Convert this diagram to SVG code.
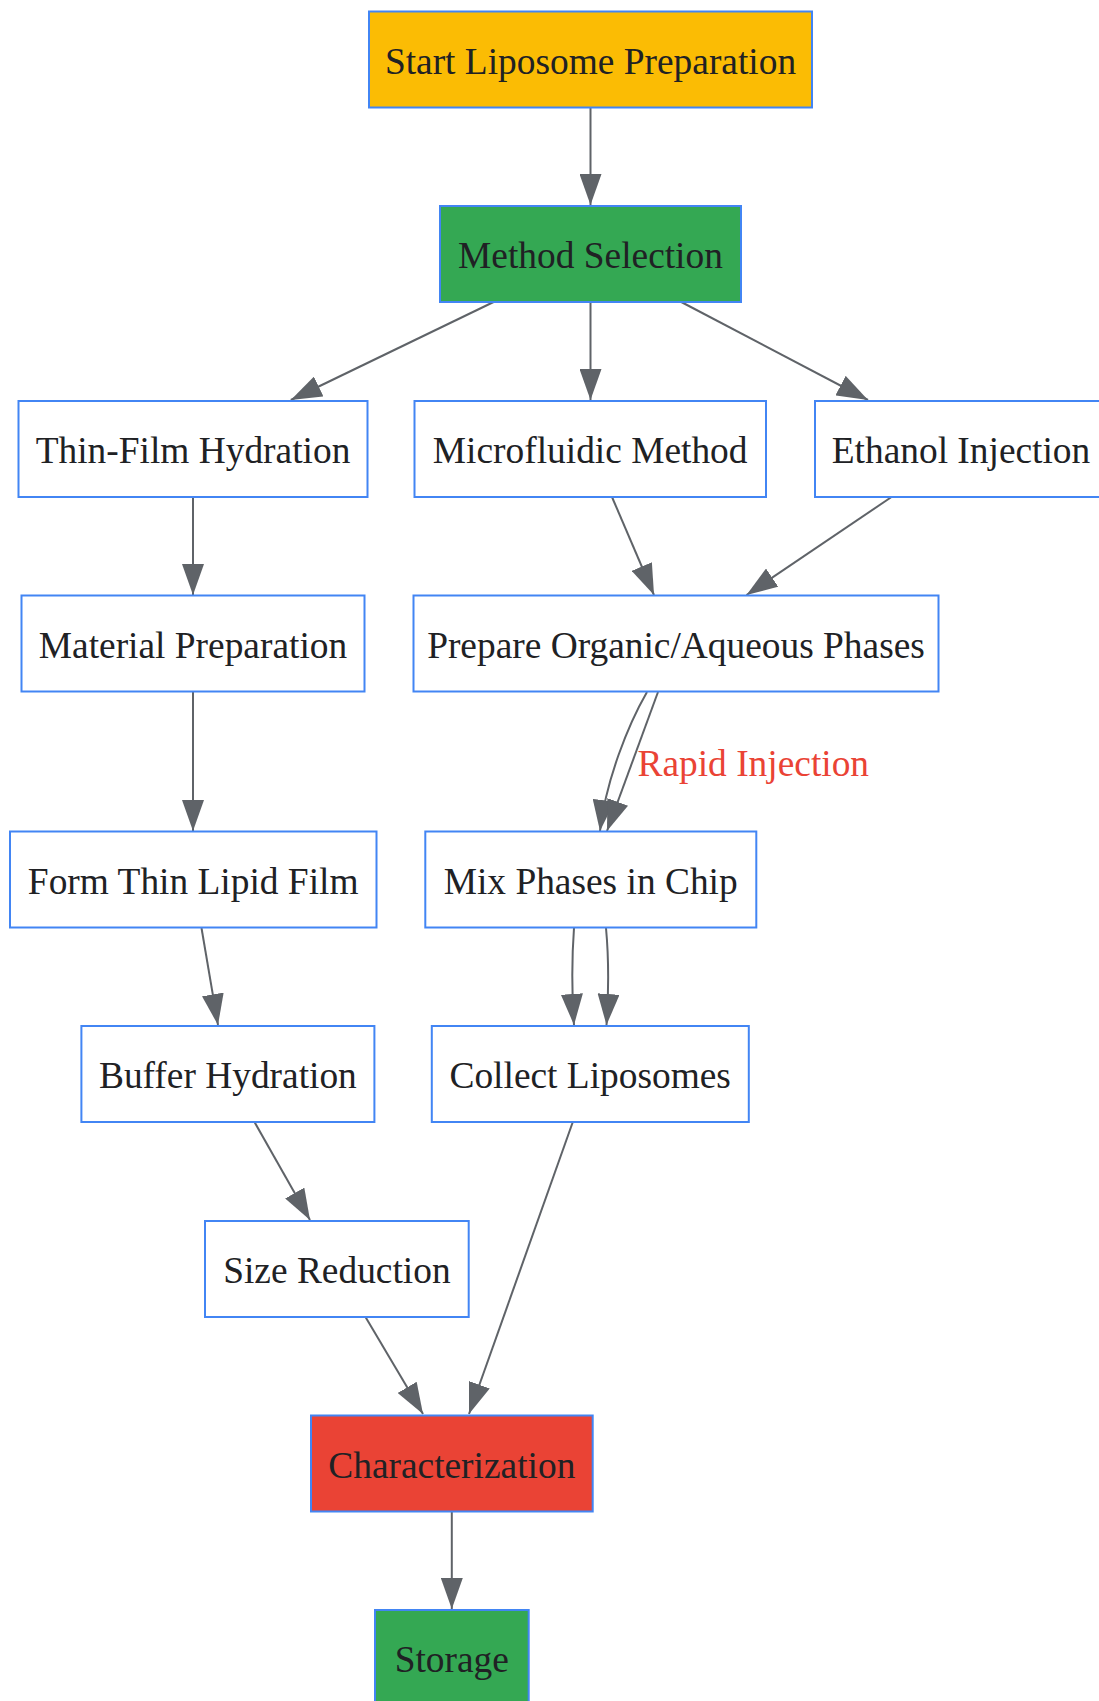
<svg xmlns="http://www.w3.org/2000/svg" width="1099" height="1701" viewBox="0 0 1099 1701">
<style>
.node rect{fill:#ffffff;stroke:#4285f4;stroke-width:2}
.node text{font-family:"Liberation Serif","Times New Roman",serif;font-size:37.4px;fill:#202124;text-anchor:middle}
.yellow rect{fill:#fbbc04}
.green rect{fill:#34a853}
.red rect{fill:#ea4335}
.edges path{fill:none;stroke:#5f6368;stroke-width:2;marker-end:url(#arrow)}
.elabel{font-family:"Liberation Serif","Times New Roman",serif;font-size:37.4px;fill:#ea4335}
</style>
<defs>
<marker id="arrow" viewBox="0 0 31 22" refX="31" refY="11" markerWidth="31" markerHeight="22" markerUnits="userSpaceOnUse" orient="auto">
<path d="M0,0 L31,11 L0,22 z" fill="#5f6368"/>
</marker>
</defs>
<rect width="1099" height="1701" fill="#ffffff"/>
<g class="edges" id="connectors">
<path d="M590.5,107 L590.5,205"/>
<path d="M493.6,302 L290.8,400"/>
<path d="M590.5,302 L590.5,400"/>
<path d="M681.3,302 L868,400"/>
<path d="M193,497 L193,595"/>
<path d="M612,497 L654,595"/>
<path d="M891.5,497 L746.5,595"/>
<path d="M193,691 L193,831"/>
<path d="M647,692 C628,725 606,780 600,831"/>
<path d="M658,692 L607,831"/>
<path d="M574,928 C572,955 572,995 574,1025"/>
<path d="M606,928 C608.5,955 608.5,995 606.5,1025"/>
<path d="M201.5,928 L218,1025"/>
<path d="M254.5,1122 L310,1220"/>
<path d="M365.5,1317 L423,1414"/>
<path d="M572.8,1122 L469,1414"/>
<path d="M451.8,1512 L451.8,1609"/>
<text class="elabel" x="637.5" y="776">Rapid Injection</text>
</g>
<g class="node yellow" id="start"><rect x="369" y="11.5" width="443" height="96"/><text x="590.5" y="73.5">Start Liposome Preparation</text></g>
<g class="node green" id="method"><rect x="440" y="206" width="301" height="96"/><text x="590.5" y="268">Method Selection</text></g>
<g class="node" id="thinfilm"><rect x="18.5" y="401" width="349" height="96"/><text x="193" y="463">Thin-Film Hydration</text></g>
<g class="node" id="microfluidic"><rect x="414.5" y="401" width="351.5" height="96"/><text x="590.2" y="463">Microfluidic Method</text></g>
<g class="node" id="ethanol"><rect x="815" y="401" width="292" height="96"/><text x="961" y="463">Ethanol Injection</text></g>
<g class="node" id="material"><rect x="21.5" y="595.5" width="343" height="96"/><text x="193" y="657.5">Material Preparation</text></g>
<g class="node" id="prepare"><rect x="413.5" y="595.5" width="525" height="96"/><text x="676" y="657.5">Prepare Organic/Aqueous Phases</text></g>
<g class="node" id="form"><rect x="10" y="831.5" width="366.5" height="96"/><text x="193.2" y="893.5">Form Thin Lipid Film</text></g>
<g class="node" id="mix"><rect x="425.3" y="831.5" width="331" height="96"/><text x="590.7" y="893.5">Mix Phases in Chip</text></g>
<g class="node" id="buffer"><rect x="81.4" y="1026" width="293" height="96"/><text x="227.9" y="1088">Buffer Hydration</text></g>
<g class="node" id="collect"><rect x="431.8" y="1026" width="317" height="96"/><text x="590.2" y="1088">Collect Liposomes</text></g>
<g class="node" id="size"><rect x="205" y="1221" width="263.7" height="96"/><text x="336.9" y="1283">Size Reduction</text></g>
<g class="node red" id="characterization"><rect x="311" y="1415.5" width="281.7" height="96"/><text x="451.8" y="1477.5">Characterization</text></g>
<g class="node green" id="storage"><rect x="375" y="1610" width="153.7" height="100"/><text x="451.8" y="1672">Storage</text></g>
</svg>
